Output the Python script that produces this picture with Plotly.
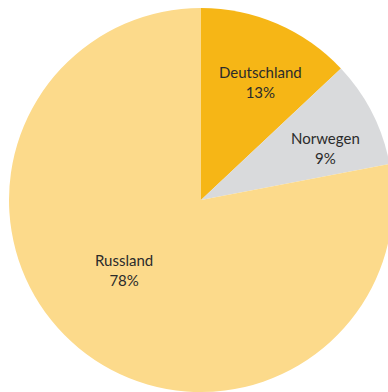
import plotly.graph_objects as go

labels = ["Deutschland", "Norwegen", "Russland"]
values = [13, 9, 78]
colors = ["#F6B616", "#D9DADC", "#FCDA8B"]

# figure is slightly larger than the window so the pie is cropped at the right/bottom edge
W, H = 396, 400

# label centres in figure pixels (layout only)
label_px = [(260, 82), (325, 148), (124, 270)]

fig = go.Figure(go.Pie(
    labels=labels,
    values=values,
    sort=False,
    direction="clockwise",
    rotation=0,
    marker=dict(colors=colors, line=dict(width=0)),
    textinfo="none",
    hoverinfo="label+percent",
    domain=dict(x=[9/W, 393/W], y=[1-392/H, 1-8/H]),
    showlegend=False,
))

for lab, val, (px, py) in zip(labels, values, label_px):
    fig.add_annotation(
        x=px / W, y=1 - py / H, xref="paper", yref="paper",
        text=f"{lab}<br>{val}%",
        showarrow=False, xanchor="center", yanchor="middle",
        font=dict(family="Lato", size=15, color="#2b2b2b"),
    )

fig.update_layout(
    width=W, height=H,
    margin=dict(l=0, r=0, t=0, b=0),
    paper_bgcolor="white",
)
fig.write_html(
    "out.html",
    config={"displayModeBar": False},
    post_script="document.documentElement.style.overflow='hidden';document.body.style.margin='0';",
)
